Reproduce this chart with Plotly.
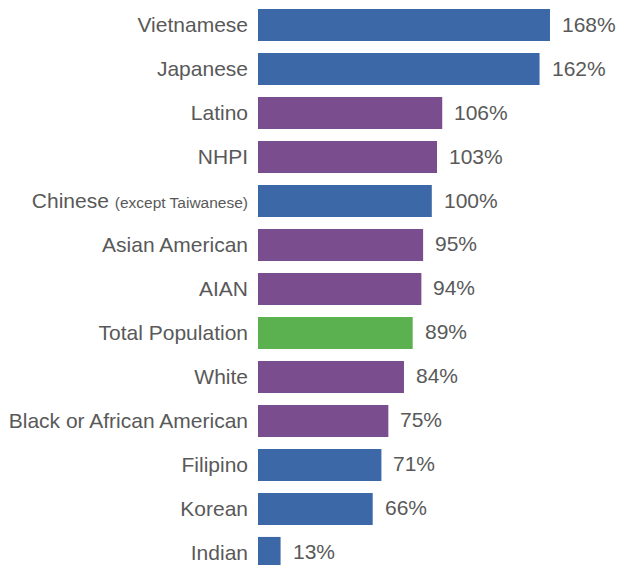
import plotly.graph_objects as go

categories = ["Vietnamese", "Japanese", "Latino", "NHPI",
              "Chinese <span style='font-size:15.5px'>(except Taiwanese)</span>",
              "Asian American", "AIAN", "Total Population", "White",
              "Black or African American", "Filipino", "Korean", "Indian"]
values = [168, 162, 106, 103, 100, 95, 94, 89, 84, 75, 71, 66, 13]
groups = ["asian", "asian", "race", "race", "asian", "race", "race", "total",
          "race", "race", "asian", "asian", "asian"]
group_colors = {"asian": "#3C68A8", "race": "#7A4D8F", "total": "#5BB050"}

colors = [group_colors[g] for g in groups]
FONT = "Liberation Sans"

fig = go.Figure(go.Bar(
    x=values, y=categories, orientation="h",
    marker=dict(color=colors, line=dict(width=0)),
    hoverinfo="skip",
))

for v, c in zip(values, categories):
    fig.add_annotation(x=v, y=c, text=f"{v}%", showarrow=False,
                       xanchor="left", yanchor="middle", xshift=10, yshift=1,
                       font=dict(size=21, color="#595959", family=FONT))

fig.update_layout(
    width=618, height=565,
    margin=dict(l=258, r=20, t=3, b=0),
    paper_bgcolor="white", plot_bgcolor="white",
    bargap=0.27,
    showlegend=False,
    font=dict(family=FONT, color="#595959", size=21),
    xaxis=dict(range=[0, 340 / 1.738], visible=False, showgrid=False, zeroline=False),
    yaxis=dict(type="category", categoryorder="array", categoryarray=categories,
               range=[12.273, -0.5], showgrid=False, zeroline=False, showline=False,
               ticks="", ticklabelstandoff=9,
               tickfont=dict(size=21, color="#595959", family=FONT)),
)

fig.write_html("out.html", config={"displayModeBar": False},
               post_script="document.body.style.margin='0';document.body.style.overflow='hidden';")
